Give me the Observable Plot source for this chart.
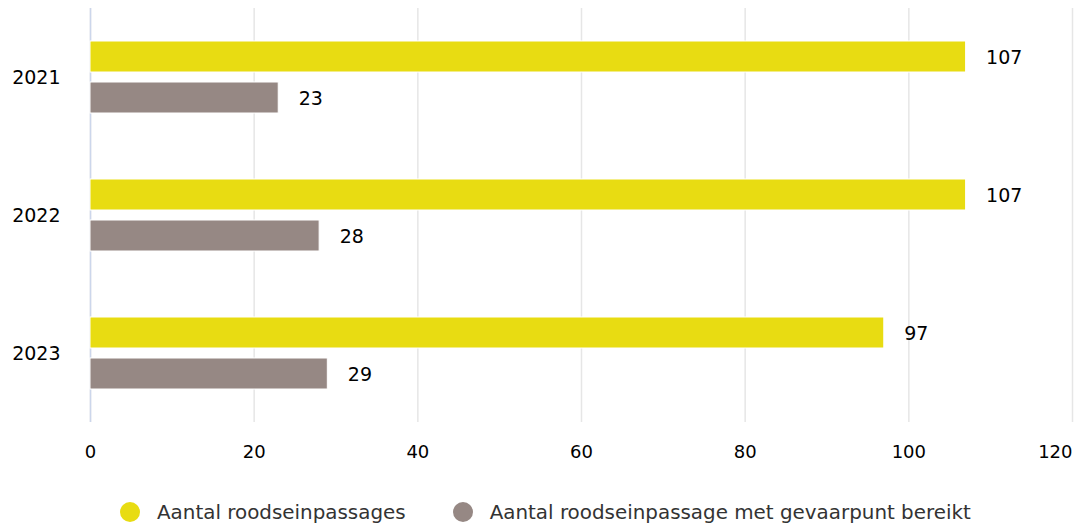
<!DOCTYPE html>
<html>
<head>
<meta charset="utf-8">
<script src="https://cdn.jsdelivr.net/npm/d3@7"></script>
<script src="https://cdn.jsdelivr.net/npm/@observablehq/plot@0.6"></script>
<style>
  html, body { margin: 0; padding: 0; background: #fff; }
  body { font-family: "DejaVu Sans", Verdana, sans-serif; width: 1074px; }
  #legend { display: flex; align-items: center; height: 84px; padding-left: 120px; font-size: 19.9px; color: #333; }
  .item { display: flex; align-items: center; margin-right: 47px; }
  .dot { width: 20px; height: 20px; border-radius: 50%; margin-right: 17px; }
</style>
</head>
<body>
<div id="chart"></div>
<div id="legend"></div>
<script>
const years = ["2021", "2022", "2023"];
const seriesNames = ["Aantal roodseinpassages", "Aantal roodseinpassage met gevaarpunt bereikt"];
const roodsein = [107, 107, 97];
const gevaarpunt = [23, 28, 29];
const xTicks = [0, 20, 40, 60, 80, 100, 120];
const colors = ["#e8dc12", "#968884"];

const data = [];
years.forEach((y, i) => {
  data.push({year: y, series: seriesNames[0], value: roodsein[i]});
  data.push({year: y, series: seriesNames[1], value: gevaarpunt[i]});
});

const chart = Plot.plot({
  width: 1074,
  height: 470,
  marginTop: 8,
  marginBottom: 48,
  marginLeft: 90,
  marginRight: 2,
  style: {fontFamily: "DejaVu Sans, Verdana, sans-serif", fontSize: "18px", color: "#000", background: "#fff"},
  x: {domain: [0, 120]},
  y: {domain: seriesNames, paddingInner: 0.238, paddingOuter: 0.762, axis: null},
  fy: {domain: years, padding: 0, label: null, axis: null},
  color: {domain: seriesNames, range: colors},
  marks: [
    Plot.gridX(xTicks, {stroke: "#e6e6e6", strokeOpacity: 1, strokeWidth: 1.5}),
    Plot.axisX(xTicks.slice(0, -1), {tickSize: 0, tickPadding: 23, label: null, fontSize: 18, fill: "#000"}),
    Plot.axisX(xTicks.slice(-1), {tickSize: 0, tickPadding: 23, label: null, fontSize: 18, fill: "#000", textAnchor: "end"}),
    Plot.axisFy({anchor: "left", tickSize: 0, tickPadding: 30, label: null, fontSize: 19, fill: "#000"}),
    Plot.ruleX([0], {stroke: "#ccd6eb", strokeWidth: 1.5}),
    Plot.barX(data, {x: "value", y: "series", fy: "year", fill: "series", stroke: "white", strokeWidth: 1}),
    Plot.text(data, {x: "value", y: "series", fy: "year", text: d => String(d.value), textAnchor: "start", dx: 20, dy: 1, fontSize: 19, fill: "#000"})
  ]
});
document.getElementById("chart").appendChild(chart);

const legend = document.getElementById("legend");
seriesNames.forEach((name, i) => {
  const item = document.createElement("div");
  item.className = "item";
  const dot = document.createElement("span");
  dot.className = "dot";
  dot.style.background = colors[i];
  const label = document.createElement("span");
  label.textContent = name;
  item.appendChild(dot);
  item.appendChild(label);
  legend.appendChild(item);
});
</script>
</body>
</html>
